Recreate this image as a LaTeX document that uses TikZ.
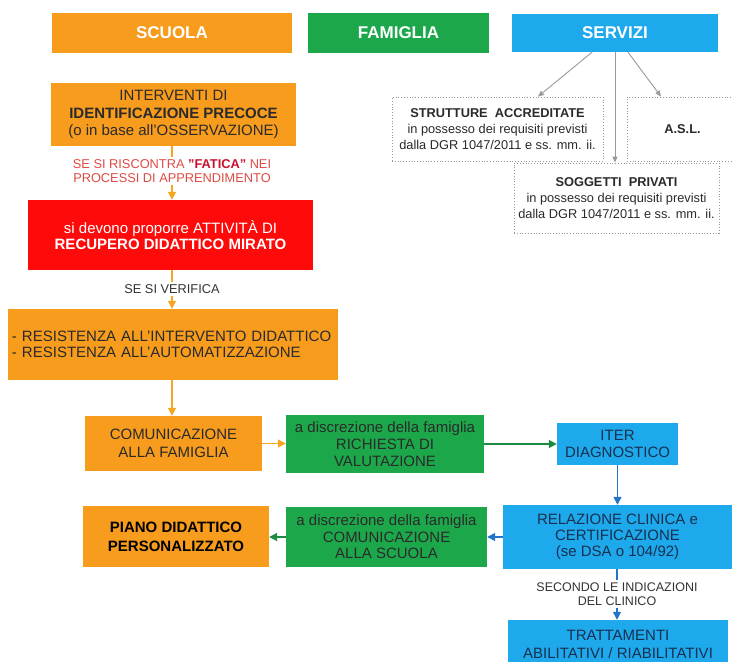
\documentclass[tikz,border=0pt]{standalone}
\usepackage{fontspec}
\setmainfont{Liberation Sans}
\usetikzlibrary{arrows.meta}
\definecolor{orng}{HTML}{F89C1E}
\definecolor{grn}{HTML}{1CA84A}
\definecolor{blu}{HTML}{1EA9EC}
\definecolor{redbox}{HTML}{FF0A0A}
\definecolor{txtdark}{HTML}{2A2A2A}
\definecolor{navy}{HTML}{17304F}
\definecolor{labred}{HTML}{E04A45}
\definecolor{fatred}{HTML}{C8102E}
\definecolor{labgray}{HTML}{333333}
\definecolor{arrO}{HTML}{F5A623}
\definecolor{arrG}{HTML}{1E8B45}
\definecolor{arrB}{HTML}{2373C9}
\definecolor{arrGray}{HTML}{9A9A9A}
\begin{document}
\begin{tikzpicture}[x=1pt,y=-1pt,
  box/.style={rectangle, inner sep=0pt, align=center},
  hdr/.style={box, text=white, font=\fontsize{17}{20}\selectfont\bfseries},
  obox/.style={box, fill=orng, text=txtdark},
  gbox/.style={box, fill=grn, text=txtdark},
  bbox/.style={box, fill=blu, text=navy},
  dbox/.style={box, draw=arrGray, dotted, line width=0.8pt, fill=white, text=txtdark, font=\fontsize{12.8}{16}\selectfont},
  lab/.style={inner sep=2pt, align=center, text=labgray, font=\fontsize{12.8}{14.5}\selectfont},
  tipT/.style={-{Triangle[length=8pt,width=8pt]}},
  oline/.style={draw=arrO, line width=1.4pt},
  oarrow/.style={oline, tipT},
  garrow/.style={draw=arrG, line width=1.4pt, tipT},
  bline/.style={draw=arrB, line width=1.4pt},
  barrow/.style={bline, tipT},
  grarrow/.style={draw=arrGray, line width=0.9pt, -{Triangle[length=6pt,width=5pt]}}
]
\useasboundingbox (0,0) rectangle (733,661);
\clip (0,0) rectangle (733,661);
\fill[white] (0,0) rectangle (733,661);

% headers
\node[hdr, fill=orng, minimum width=240pt, minimum height=40pt] (scuola) at (172,33) {SCUOLA};
\node[hdr, fill=grn, minimum width=181pt, minimum height=40pt] (famiglia) at (398.5,33) {FAMIGLIA};
\node[hdr, fill=blu, minimum width=206pt, minimum height=38pt] (servizi) at (615,33) {SERVIZI};

% servizi boxes
\node[dbox, minimum width=211pt, minimum height=64pt] (strutt) at (497.5,129)
  {\textbf{STRUTTURE\ \ ACCREDITATE}\\in possesso dei requisiti previsti\\dalla DGR 1047/2011 e ss. mm. ii.};
\node[dbox, minimum width=111pt, minimum height=64pt] (asl) at (682.5,129) {\textbf{A.S.L.}};
\node[dbox, minimum width=205pt, minimum height=70pt] (sogg) at (616.5,198)
  {\textbf{SOGGETTI\ \ PRIVATI}\\in possesso dei requisiti previsti\\dalla DGR 1047/2011 e ss. mm. ii.};

\draw[grarrow] ([xshift=-23pt]servizi.south) -- ([xshift=40.5pt]strutt.north);
\draw[grarrow] (servizi.south) -- ([xshift=-1.5pt]sogg.north);
\draw[grarrow] ([xshift=13pt]servizi.south) -- ([xshift=-21.5pt]asl.north);

% scuola column
\node[obox, minimum width=245pt, minimum height=63pt, font=\fontsize{15}{17.5}\selectfont] (interv) at (173.5,114.5)
  {INTERVENTI DI\\\textbf{IDENTIFICAZIONE PRECOCE}\\(o in base all'OSSERVAZIONE)};
\node[lab, text=labred] (lab1) at (172,171)
  {SE SI RISCONTRA \textbf{\color{fatred}"FATICA"} NEI\\PROCESSI DI APPRENDIMENTO};
\node[box, fill=redbox, text=white, minimum width=285pt, minimum height=70pt, font=\fontsize{15}{16.5}\selectfont] (recup) at (170.5,235)
  {si devono proporre ATTIVITÀ DI\\\textbf{RECUPERO DIDATTICO MIRATO}};
\node[lab] (lab2) at (172,289) {SE SI VERIFICA};
\node[obox, minimum width=330pt, minimum height=71pt, text width=322pt, align=left, font=\fontsize{15}{15.5}\selectfont] (resist) at (173,344.5)
  {- RESISTENZA ALL'INTERVENTO DIDATTICO\\- RESISTENZA ALL'AUTOMATIZZAZIONE};

\draw[oline] (interv.south -| lab1) -- (lab1.north);
\draw[oarrow] (lab1.south) -- (recup.north -| lab1);
\draw[oline] (recup.south -| lab2) -- (lab2.north);
\draw[oarrow] (lab2.south) -- (resist.north -| lab2);

% flow row 1
\node[obox, minimum width=177pt, minimum height=55pt, font=\fontsize{15}{18}\selectfont] (comfam) at (173.5,443.5)
  {COMUNICAZIONE\\ALLA FAMIGLIA};
\node[gbox, minimum width=198pt, minimum height=58pt, font=\fontsize{15}{17}\selectfont] (richiesta) at (385,444)
  {a discrezione della famiglia\\RICHIESTA DI\\VALUTAZIONE};
\node[bbox, minimum width=121pt, minimum height=42pt, font=\fontsize{15}{16.5}\selectfont] (iter) at (617.5,444)
  {ITER\\DIAGNOSTICO};

% flow row 2
\node[bbox, minimum width=229pt, minimum height=64pt, font=\fontsize{15}{16}\selectfont] (relaz) at (617.5,537)
  {RELAZIONE CLINICA e\\CERTIFICAZIONE\\(se DSA o 104/92)};
\node[gbox, minimum width=201pt, minimum height=60pt, font=\fontsize{15}{16.5}\selectfont] (comscuola) at (386.5,537)
  {a discrezione della famiglia\\COMUNICAZIONE\\ALLA SCUOLA};
\node[obox, text=black, minimum width=186pt, minimum height=61pt, font=\fontsize{15}{19}\selectfont\bfseries] (piano) at (176,536.5)
  {PIANO DIDATTICO\\PERSONALIZZATO};

\node[lab, font=\fontsize{12.5}{14}\selectfont] (lab3) at (617,594) {SECONDO LE INDICAZIONI\\DEL CLINICO};
\node[bbox, minimum width=220pt, minimum height=48pt, font=\fontsize{15}{18}\selectfont] (tratt) at (618,644)
  {TRATTAMENTI\\ABILITATIVI / RIABILITATIVI};

\draw[oarrow] (resist.south -| lab2) -- (comfam.north -| lab2);
\draw[oarrow] (comfam.east) -- (comfam.east -| richiesta.west);
\draw[garrow] (richiesta.east) -- (iter.west);
\draw[barrow] (iter.south) -- (relaz.north);
\draw[barrow] (relaz.west) -- (comscuola.east);
\draw[garrow] (comscuola.west) -- (comscuola.west -| piano.east);
\draw[bline] (relaz.south -| lab3) -- (lab3.north);
\draw[barrow] (lab3.south) -- (tratt.north -| lab3);
\end{tikzpicture}
\end{document}
